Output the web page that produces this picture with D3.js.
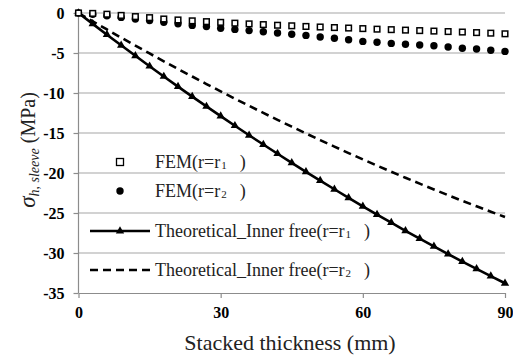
<!DOCTYPE html>
<html>
<head>
<meta charset="utf-8">
<script src="https://cdn.jsdelivr.net/npm/d3@7"></script>
<style>
body{margin:0;background:#fff;}
svg{display:block;}
</style>
</head>
<body>
<svg id="chart" width="513" height="357"></svg>
<script>
const thickness = [0,3,6,9,12,15,18,21,24,27,30,33,36,39,42,45,48,51,54,57,60,63,66,69,72,75,78,81,84,87,90];
const femR1 = [0,-0.05,-0.15,-0.3,-0.45,-0.58,-0.75,-0.87,-0.98,-1.08,-1.17,-1.27,-1.36,-1.45,-1.53,-1.6,-1.68,-1.75,-1.82,-1.88,-1.95,-2.02,-2.08,-2.14,-2.2,-2.26,-2.32,-2.38,-2.45,-2.52,-2.6];
const femR2 = [0,-0.15,-0.35,-0.55,-0.75,-0.95,-1.15,-1.35,-1.55,-1.7,-1.9,-2.05,-2.2,-2.35,-2.5,-2.65,-2.8,-3.0,-3.15,-3.35,-3.55,-3.65,-3.8,-3.9,-4.0,-4.1,-4.25,-4.4,-4.5,-4.65,-4.8];
const theoR1 = [0,-1.36,-2.71,-4.04,-5.35,-6.65,-7.93,-9.2,-10.45,-11.68,-12.89,-14.09,-15.28,-16.44,-17.59,-18.73,-19.85,-20.95,-22.03,-23.1,-24.16,-25.19,-26.21,-27.22,-28.2,-29.17,-30.13,-31.07,-31.99,-32.89,-33.78];
const theoR2 = [0,-1.04,-2.06,-3.08,-4.08,-5.06,-6.04,-7.0,-7.94,-8.88,-9.8,-10.71,-11.6,-12.49,-13.36,-14.21,-15.05,-15.89,-16.7,-17.51,-18.3,-19.08,-19.84,-20.6,-21.33,-22.06,-22.77,-23.48,-24.16,-24.84,-25.5];
const xTicks = [0,30,60,90];
const yTicks = [0,-5,-10,-15,-20,-25,-30,-35];
const legendLabels = ["FEM(r=r", "FEM(r=r", "Theoretical_Inner free(r=r", "Theoretical_Inner free(r=r"];
const legendSubs = ["1","2","1","2"];

const FONT = "Liberation Serif";
const svg = d3.select("#chart").attr("font-family",FONT);
const x = d3.scaleLinear().domain([0,90]).range([78.5,505]);
const y = d3.scaleLinear().domain([-35,0]).range([293,13]);

// gridlines
svg.append("g").selectAll("line").data(yTicks.filter(d=>d!==-35)).join("line")
  .attr("x1",x(0)).attr("x2",x(90)).attr("y1",d=>y(d)).attr("y2",d=>y(d))
  .attr("stroke","#a6a6a6").attr("stroke-width",1.2);

// axes
const yAxis = svg.append("g").attr("transform",`translate(${x(0)},0)`)
  .call(d3.axisLeft(y).tickValues(yTicks).tickSize(5).tickPadding(9).tickFormat(d=>String(d)));
const xAxis = svg.append("g").attr("transform",`translate(0,${y(-35)})`)
  .call(d3.axisBottom(x).tickValues(xTicks).tickSize(5).tickPadding(9).tickSizeOuter(0).tickFormat(d=>String(d)));
[yAxis,xAxis].forEach(a=>{
  a.attr("font-family",FONT).attr("font-size",16).attr("font-weight","bold");
  a.select(".domain").attr("stroke","#8c8c8c").attr("stroke-width",1.2);
  a.selectAll(".tick line").attr("stroke","#8c8c8c").attr("stroke-width",1.2);
  a.selectAll(".tick text").attr("fill","#000").attr("font-family",FONT);
});
yAxis.select(".domain").attr("d",`M0,${y(0)}V${y(-35)}`);

const pts = (vals)=>thickness.map((t,i)=>[t,vals[i]]);
const line = d3.line().x(d=>x(d[0])).y(d=>y(d[1]));

// theoretical r2 dashed
svg.append("path").datum(pts(theoR2)).attr("d",line).attr("fill","none")
  .attr("stroke","#000").attr("stroke-width",2.6).attr("stroke-dasharray","8,5");
// theoretical r1 solid with triangles
svg.append("path").datum(pts(theoR1)).attr("d",line).attr("fill","none")
  .attr("stroke","#000").attr("stroke-width",2.6);
const tri = d3.symbol().type(d3.symbolTriangle).size(30);
svg.append("g").selectAll("path").data(pts(theoR1)).join("path")
  .attr("transform",d=>`translate(${x(d[0])},${y(d[1])})`).attr("d",tri).attr("fill","#000");

// FEM r2 circles
svg.append("g").selectAll("circle").data(pts(femR2)).join("circle")
  .attr("cx",d=>x(d[0])).attr("cy",d=>y(d[1])).attr("r",3.7).attr("fill","#000");
// FEM r1 squares
svg.append("g").selectAll("rect").data(pts(femR1)).join("rect")
  .attr("x",d=>x(d[0])-2.8).attr("y",d=>y(d[1])-2.8).attr("width",5.6).attr("height",5.6)
  .attr("fill","#fff").attr("stroke","#000").attr("stroke-width",1.5);

// legend
const legY = [162,191,231,270];
const lg = svg.append("g");
lg.append("rect").attr("x",116.5).attr("y",legY[0]-3.5).attr("width",7).attr("height",7)
  .attr("fill","#fff").attr("stroke","#000").attr("stroke-width",1.3);
lg.append("circle").attr("cx",120).attr("cy",legY[1]).attr("r",3.7).attr("fill","#000");
lg.append("line").attr("x1",90).attr("x2",150).attr("y1",legY[2]).attr("y2",legY[2])
  .attr("stroke","#000").attr("stroke-width",2.6);
lg.append("path").attr("transform",`translate(120,${legY[2]})`).attr("d",tri).attr("fill","#000");
lg.append("line").attr("x1",90).attr("x2",150).attr("y1",legY[3]).attr("y2",legY[3])
  .attr("stroke","#000").attr("stroke-width",2.6).attr("stroke-dasharray","8,5");
legendLabels.forEach((lab,i)=>{
  const t = lg.append("text").attr("x",155).attr("y",legY[i]+6)
    .attr("font-family",FONT).attr("font-size",18).attr("fill","#222");
  t.append("tspan").text(lab);
  t.append("tspan").attr("font-size",11).attr("dx",1).attr("dy",1).text(legendSubs[i]);
  t.append("tspan").attr("dx",13).attr("dy",-1).text(")");
});

// axis titles
svg.append("text").attr("x",290).attr("y",350).attr("text-anchor","middle")
  .attr("font-family",FONT).attr("font-size",22).attr("fill","#222").text("Stacked thickness (mm)");
const yl = svg.append("text").attr("transform","translate(35,150) rotate(-90)")
  .attr("text-anchor","middle").attr("fill","#222").attr("font-family",FONT);
yl.append("tspan").attr("font-size",23).attr("font-style","italic").text("σ");
yl.append("tspan").attr("font-size",14).attr("font-style","italic").attr("dy",4).text("h, sleeve");
yl.append("tspan").attr("font-size",20).attr("dy",-4).text(" (MPa)");
</script>
</body>
</html>
